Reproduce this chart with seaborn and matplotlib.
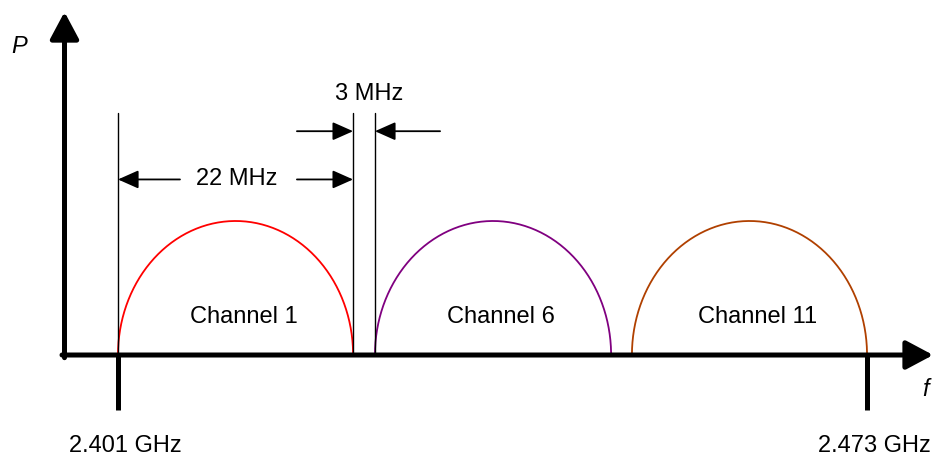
import numpy as np
import pandas as pd
import matplotlib.pyplot as plt
import seaborn as sns

# ---- data (frequencies in MHz, power normalised to channel peak) ----------
channels     = ["Channel 1", "Channel 6", "Channel 11"]
chan_lo      = [2401.0, 2425.7, 2450.4]
chan_hi      = [2423.6, 2448.4, 2473.0]
chan_colors  = ["#ff0000", "#800080", "#b04000"]
band_lo, band_hi = 2401.0, 2473.0
band_labels  = ["2.401 GHz", "2.473 GHz"]

sns.set_style("white")
plt.rcParams['font.family'] = ['Liberation Sans', 'DejaVu Sans']
plt.rcParams['text.color'] = 'black'

# axes span whole figure; limits chosen so the picture lines up
fig = plt.figure(figsize=(9.38, 4.57), dpi=100)
ax = fig.add_axes([0, 0, 1, 1])
ax.set_xlim(2389.66, 2479.82)
ax.set_ylim(-0.761, 2.649)
ax.axis('off')

# arcs for each channel (half-ellipses)
rows = []
for name, lo, hi in zip(channels, chan_lo, chan_hi):
    t = np.linspace(np.pi, 0, 200)
    c, hw = (lo + hi) / 2, (hi - lo) / 2
    for xx, yy in zip(c + hw * np.cos(t), np.sin(t)):
        rows.append((name, xx, yy))
arcs = pd.DataFrame(rows, columns=["channel", "freq", "power"])
sns.lineplot(data=arcs, x="freq", y="power", hue="channel", palette=chan_colors,
             sort=False, estimator=None, lw=1.3, legend=False, ax=ax)

for name, lo, hi in zip(channels, chan_lo, chan_hi):
    ax.text((lo + hi) / 2 + 0.8, 0.28, name, ha='center', va='center', fontsize=17)

# axes arrows
big = dict(arrowstyle='-|>,head_length=0.75,head_width=0.4',
           lw=3.6, color='black', mutation_scale=22, shrinkA=0, shrinkB=0)
ax.annotate("", xy=(2479.35, 0), xytext=(2395.62, 0), arrowprops=big)
ax.annotate("", xy=(2395.86, 2.56), xytext=(2395.86, -0.02), arrowprops=big)
ax.text(2391.5, 2.30, "P", fontsize=17, style='italic', ha='center', va='center')
ax.text(2478.6, -0.26, "f", fontsize=17, style='italic', ha='center', va='center')

# band edge ticks and labels
for f in [band_lo, band_hi]:
    ax.plot([f, f], [0, -0.41], color='black', lw=3.6, solid_capstyle='butt')
ax.text(band_lo + 0.68, -0.68, band_labels[0], ha='center', va='center', fontsize=17)
ax.text(band_hi + 0.67, -0.68, band_labels[1], ha='center', va='center', fontsize=17)

# thin guide lines
for f in [chan_lo[0], chan_hi[0], chan_lo[1]]:
    ax.plot([f, f], [0, 1.806], color='black', lw=1.0)

arr = dict(arrowstyle='-|>,head_length=0.9,head_width=0.4', lw=1.3,
           color='black', mutation_scale=14, shrinkA=0, shrinkB=0)
y22 = 1.31
ax.annotate("", xy=(chan_lo[0], y22), xytext=(chan_lo[0] + 5.96, y22), arrowprops=arr)
ax.annotate("", xy=(chan_hi[0], y22), xytext=(chan_hi[0] - 5.4, y22), arrowprops=arr)
ax.text((chan_lo[0] + chan_hi[0]) / 2 + 0.1, y22, "22 MHz", ha='center', va='center', fontsize=17)

y3 = 1.67
ax.annotate("", xy=(chan_hi[0], y3), xytext=(chan_hi[0] - 5.4, y3), arrowprops=arr)
ax.annotate("", xy=(chan_lo[1], y3), xytext=(chan_lo[1] + 6.26, y3), arrowprops=arr)
ax.text((chan_hi[0] + chan_lo[1]) / 2 + 0.5, 1.95, "3 MHz", ha='center', va='center', fontsize=17)

fig.savefig("out.png", dpi=100)
